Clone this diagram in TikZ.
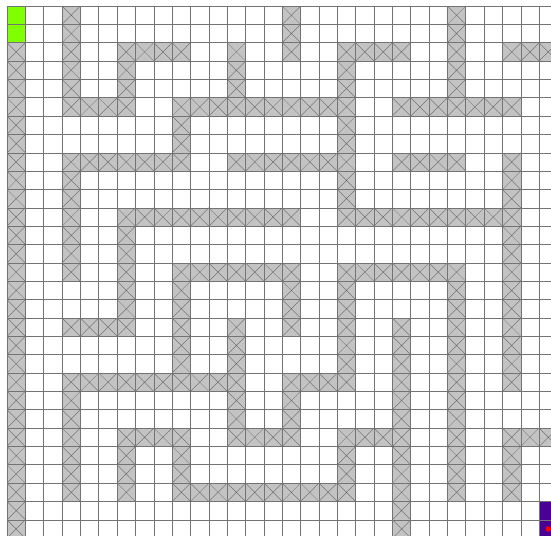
\documentclass[tikz,border=0pt]{standalone}
\definecolor{wallfill}{RGB}{195,195,195}
\definecolor{wallborder}{RGB}{150,150,150}
\definecolor{wallx}{RGB}{95,95,95}
\definecolor{gridgray}{RGB}{115,115,115}
\definecolor{startgreen}{RGB}{127,255,0}
\definecolor{goalpurple}{RGB}{75,0,150}
\tikzset{
  wallcell/.style={fill=wallfill, draw=wallborder, line width=0.9pt},
  wallcross/.style={draw=wallx, line width=0.5pt},
  gridline/.style={draw=gridgray, line width=0.9pt},
  startcell/.style={fill=startgreen},
  goalcell/.style={fill=goalpurple},
  goaldot/.style={fill=red}
}
\begin{document}
\begin{tikzpicture}[x=1cm,y=1cm]
\useasboundingbox (-0.3815,0.327) rectangle (29.645,-28.828);
\clip (-0.3815,0.327) rectangle (29.645,-28.828);
\fill[white] (-0.3815,0.327) rectangle (29.645,-28.828);
% start and goal
\fill[startcell] (0,0) rectangle (1,-2);
\fill[goalcell] (29,-27) rectangle (30,-29);
% walls
\foreach \r/\cols in {
 0/{3,15,24},
 1/{3,15,24},
 2/{0,3,6,7,8,9,12,15,18,19,20,21,24,27,28,29},
 3/{0,3,6,12,18,24},
 4/{0,3,6,12,18,24},
 5/{0,3,4,5,6,9,10,11,12,13,14,15,16,17,18,21,22,23,24,25,26,27},
 6/{0,9,18},
 7/{0,9,18},
 8/{0,3,4,5,6,7,8,9,12,13,14,15,16,17,18,21,22,23,24,27},
 9/{0,3,18,27},
 10/{0,3,18,27},
 11/{0,3,6,7,8,9,10,11,12,13,14,15,18,19,20,21,22,23,24,25,26,27},
 12/{0,3,6,27},
 13/{0,3,6,27},
 14/{0,3,6,9,10,11,12,13,14,15,18,19,20,21,22,23,24,27},
 15/{0,6,9,15,18,24,27},
 16/{0,6,9,15,18,24,27},
 17/{0,3,4,5,6,9,12,15,18,21,24,27},
 18/{0,9,12,18,21,24,27},
 19/{0,9,12,18,21,24,27},
 20/{0,3,4,5,6,7,8,9,10,11,12,15,16,17,18,21,24,27},
 21/{0,3,12,15,21,24},
 22/{0,3,12,15,21,24},
 23/{0,3,6,7,8,9,12,13,14,15,18,19,20,21,24,27,28,29},
 24/{0,3,6,9,18,21,24,27},
 25/{0,3,6,9,18,21,24,27},
 26/{0,3,6,9,10,11,12,13,14,15,16,17,18,21,24,27},
 27/{0,21},
 28/{0,21}}
{
  \foreach \c in \cols {
    \draw[wallcell] (\c,-\r) rectangle ++(1,-1);
    \draw[wallcross] (\c,-\r) -- ++(1,-1) ++(0,1) -- ++(-1,-1);
  }
}
% grid
\draw[gridline] (0,0) grid (30,-29);
% goal marker
\fill[goaldot] (29.5,-28.5) circle (0.15);
\end{tikzpicture}
\end{document}
